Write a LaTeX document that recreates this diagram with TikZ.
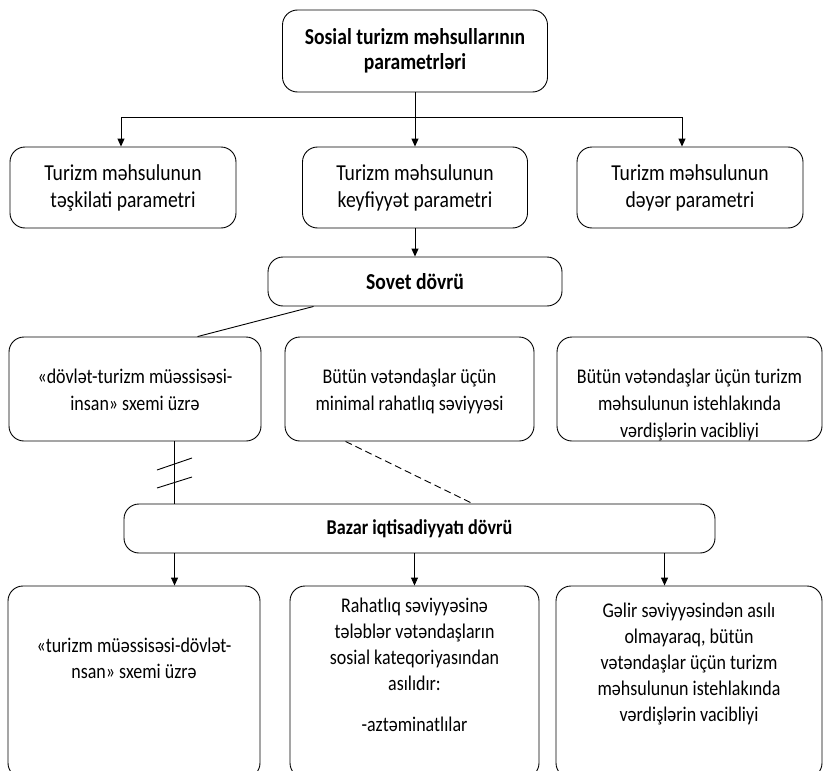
\documentclass[tikz,border=0pt]{standalone}
\usepackage{fontspec}
\setmainfont{Carlito}[FakeStretch=0.86]
\usetikzlibrary{arrows.meta}
\newcommand\mytbox[4]{\parbox[c][#1][t]{#2}{\centering\rule{0pt}{#3}#4}}
\begin{document}
\begin{tikzpicture}[x=1pt,y=-1pt,
  box/.style={draw, line width=0.9pt, rounded corners=15pt, inner sep=0pt, align=center,
    font=\fontsize{22.8}{27}\selectfont},
  bbox/.style={box, font=\bfseries\fontsize{22.8}{25}\selectfont},
  midbox/.style={box, font=\fontsize{20.9}{27}\selectfont},
  lowbox/.style={box, font=\fontsize{20.9}{26}\selectfont},
  arr/.style={-{Triangle[length=8pt,width=7pt]}, line width=0.9pt},
  ln/.style={line width=0.9pt}]
\useasboundingbox (0,0) rectangle (823,771);
\clip (0,0) rectangle (823,771);

% top
\node[bbox, minimum width=265pt, minimum height=82pt] (top) at (415,51)
  {Sosial turizm məhsullarının\\parametrləri};

% row 2
\node[box, minimum width=226pt, minimum height=81pt] (p1) at (123,187.5)
  {Turizm məhsulunun\\təşkilati parametri};
\node[box, minimum width=225pt, minimum height=81pt] (p2) at (415,187.5)
  {Turizm məhsulunun\\keyfiyyət parametri};
\node[box, minimum width=226pt, minimum height=81pt] (p3) at (690,187.5)
  {Turizm məhsulunun\\dəyər parametri};

% sovet
\node[bbox, minimum width=294pt, minimum height=49pt] (sovet) at (415,281.5) {Sovet dövrü};

% row 3
\node[midbox] (s1) at (135,389)
  {\mytbox{104pt}{252pt}{46pt}{«dövlət-turizm müəssisəsi-\\insan» sxemi üzrə}};
\node[midbox] (s2) at (409.5,389)
  {\mytbox{104pt}{249pt}{46pt}{Bütün vətəndaşlar üçün\\minimal rahatlıq səviyyəsi}};
\node[midbox] (s3) at (689.5,389)
  {\mytbox{104pt}{265pt}{46pt}{Bütün vətəndaşlar üçün turizm\\məhsulunun istehlakında\\vərdişlərin vacibliyi}};

% bazar
\node[bbox, font=\bfseries\fontsize{21.1}{24}\selectfont, minimum width=591pt, minimum height=49pt] (bazar) at (419.5,528.5) {Bazar iqtisadiyyatı dövrü};

% bottom row
\node[lowbox] (b1) at (134,682)
  {\mytbox{192pt}{252pt}{66pt}{«turizm müəssisəsi-dövlət-\\nsan» sxemi üzrə}};
\node[lowbox] (b2) at (414.5,682)
  {\mytbox{192pt}{249pt}{26pt}{Rahatlıq səviyyəsinə\\tələblər vətəndaşların\\sosial kateqoriyasından\\asılıdır:\\[15pt]-aztəminatlılar}};
\node[lowbox] (b3) at (689,682)
  {\mytbox{192pt}{266pt}{31pt}{Gəlir səviyyəsindən asılı\\olmayaraq, bütün\\vətəndaşlar üçün turizm\\məhsulunun istehlakında\\vərdişlərin vacibliyi}};

% connectors
\coordinate (j) at (415,117);
\draw[arr] (top.south) -- (p2.north);
\draw[arr] (j) -| ([xshift=-2pt]p1.north);
\draw[arr] (j) -| ([xshift=-8pt]p3.north);
\draw[arr] (p2.south) -- (sovet.north);
\draw[ln] ([xshift=46pt]sovet.south west) -- ([xshift=189pt]s1.north west);
\coordinate (c1) at ([xshift=166pt]s1.south west);
\draw[ln] (c1) -- (c1 |- bazar.north);
\draw[ln] (157,470) -- (192,458);
\draw[ln] (157,488) -- (192,477);
\draw[ln, dash pattern=on 7pt off 4pt] ([xshift=61pt]s2.south west) -- ([xshift=349pt]bazar.north west);
\draw[arr] (bazar.south -| c1) -- (b1.north -| c1);
\draw[arr] (bazar.south -| b2.north) -- (b2.north);
\coordinate (c3) at ([xshift=109pt]b3.north west);
\draw[arr] (bazar.south -| c3) -- (c3);
\end{tikzpicture}
\end{document}
